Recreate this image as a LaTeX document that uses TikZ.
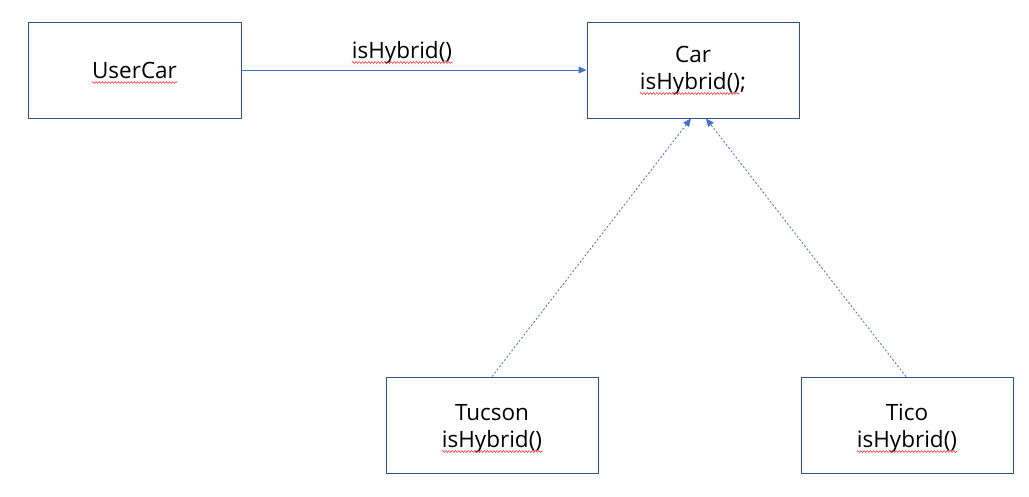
\documentclass[tikz,border=0pt]{standalone}
\usepackage{fontspec}
\setmainfont{Open Sans}
\usetikzlibrary{arrows.meta,decorations.pathmorphing}
\definecolor{boxblue}{HTML}{2F528F}
\definecolor{linkblue}{HTML}{4472C4}
\definecolor{squigred}{HTML}{F03C3C}
\tikzset{
  classbox/.style={draw=boxblue, line width=0.9pt, rectangle, inner sep=0pt},
  label text/.style={inner sep=0pt, anchor=base, font=\fontsize{22.5}{27}\selectfont, text=black},
  squiggle/.style={draw=squigred, line width=0.6pt, decorate, decoration={snake, amplitude=0.9pt, segment length=3.2pt}},
  calls/.style={draw=linkblue, line width=0.9pt, -{Triangle[length=8pt,width=7pt]}},
  realizes/.style={draw=linkblue, line width=0.8pt, dash pattern=on 2pt off 2pt, -{Triangle[length=8pt,width=7pt]}}
}
\begin{document}
\begin{tikzpicture}[x=1pt,y=-1pt]
\useasboundingbox (0,0) rectangle (1029,496);
% boxes
\node[classbox, minimum width=213pt, minimum height=96pt] (usercar) at (134.5,70) {};
\node[classbox, minimum width=212pt, minimum height=96pt] (car) at (693,70) {};
\node[classbox, minimum width=212pt, minimum height=96pt] (tucson) at (492,425) {};
\node[classbox, minimum width=212pt, minimum height=96pt] (tico) at (907,425) {};
% texts
\node[label text] (tuser) at (134.5,78) {UserCar};
\node[label text] (tcar1) at (693,62) {Car};
\node[label text] (tcar2) at (693,89) {isHybrid();};
\node[label text] (ttuc1) at (492,420) {Tucson};
\node[label text] (ttuc2) at (492,447) {isHybrid()};
\node[label text] (ttic1) at (907,420) {Tico};
\node[label text] (ttic2) at (907,447) {isHybrid()};
\node[label text] (tcall) at (402,58) {isHybrid()};
% spell-check underlines
\draw[squiggle] ([yshift=-4.5pt]tuser.base west) -- ([yshift=-4.5pt]tuser.base east);
\draw[squiggle] ([yshift=-4.5pt]tcar2.base west) -- ([xshift=-7pt,yshift=-4.5pt]tcar2.base east);
\draw[squiggle] ([yshift=-4.5pt]ttuc2.base west) -- ([yshift=-4.5pt]ttuc2.base east);
\draw[squiggle] ([yshift=-4.5pt]ttic2.base west) -- ([yshift=-4.5pt]ttic2.base east);
\draw[squiggle] ([yshift=-4.5pt]tcall.base west) -- ([yshift=-4.5pt]tcall.base east);
% connectors
\draw[calls] (usercar.east) -- (car.west);
\coordinate (tucstart) at ([xshift=0pt]tucson.north);
\coordinate (carL) at ([xshift=-2pt]car.south);
\coordinate (carR) at ([xshift=13pt]car.south);
\coordinate (ticstart) at ([xshift=-1pt]tico.north);
\draw[realizes] (tucstart) -- (carL);
\draw[realizes] (ticstart) -- (carR);
\end{tikzpicture}
\end{document}
